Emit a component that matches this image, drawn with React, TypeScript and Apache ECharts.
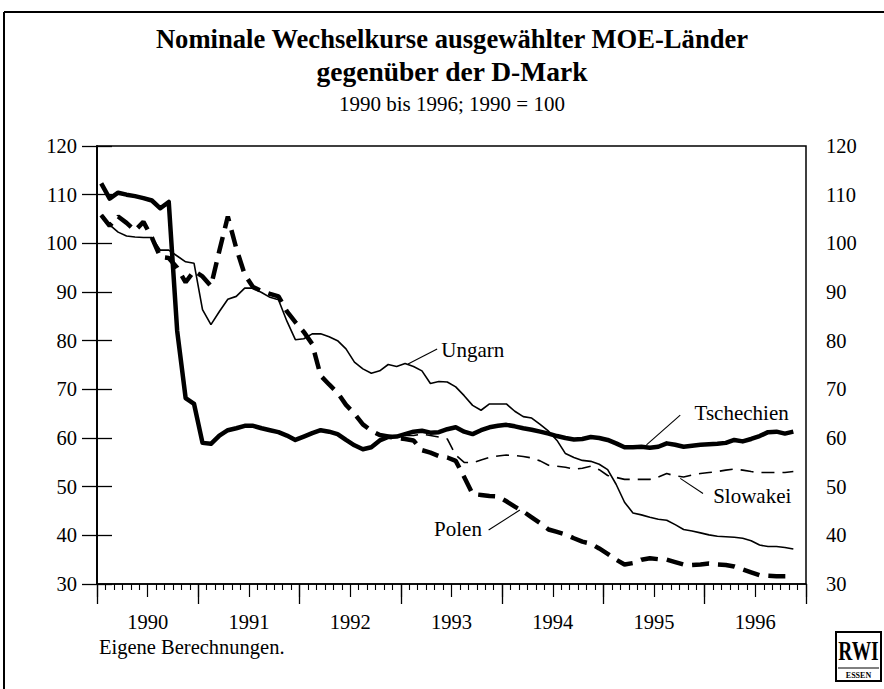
import React, { useEffect, useRef } from "react";
import * as echarts from "echarts";

// Monthly values, Jan 1990 .. Nov 1996 (index 1990 = 100)
const years = ["1990", "1991", "1992", "1993", "1994", "1995", "1996"];
const yTickMin = 30;
const yTickMax = 120;
const yTickStep = 10;

const tschechien = [
  112.3, 109.2, 110.4, 110.0, 109.7, 109.3, 108.8, 107.2, 108.5, 82.0, 68.2, 67.0,
  59.0, 58.8, 60.5, 61.6, 62.0, 62.5, 62.5, 62.0, 61.6, 61.2, 60.5, 59.6,
  60.3, 61.0, 61.6, 61.3, 60.8, 59.6, 58.5, 57.7, 58.1, 59.5, 60.2, 60.3,
  60.8, 61.3, 61.5, 61.1, 61.2, 61.8, 62.2, 61.3, 60.8, 61.6, 62.2, 62.5,
  62.7, 62.4, 62.0, 61.7, 61.3, 60.9, 60.4, 60.0, 59.7, 59.8, 60.2, 60.0,
  59.6, 58.9, 58.1, 58.1, 58.2, 58.0, 58.2, 58.9, 58.6, 58.2, 58.4, 58.6,
  58.7, 58.8, 59.0, 59.6, 59.3, 59.8, 60.4, 61.2, 61.3, 60.9, 61.3,
];

const ungarn = [
  105.8, 103.8, 102.3, 101.5, 101.3, 101.2, 101.2, 98.6, 98.6, 97.4, 96.2, 95.9,
  86.4, 83.3, 86.0, 88.5, 89.1, 90.8, 90.8, 89.9, 88.9, 88.4, 84.0, 80.2,
  80.4, 81.4, 81.4, 80.8, 80.0, 78.3, 75.6, 74.2, 73.3, 73.8, 75.1, 74.7,
  75.3, 74.7, 73.8, 71.2, 71.6, 71.5, 70.5, 68.7, 66.7, 65.7, 67.0, 67.0,
  67.0, 65.5, 64.4, 64.1, 62.8, 61.4, 59.5, 56.8, 56.0, 55.4, 55.2, 54.6,
  53.5, 50.5, 46.8, 44.6, 44.2, 43.7, 43.3, 43.1, 42.2, 41.2, 40.9, 40.5,
  40.1, 39.8, 39.7, 39.6, 39.4, 38.9, 38.0, 37.7, 37.7, 37.5, 37.2,
];

const polen = [
  105.8, 103.6, 105.5, 104.2, 102.6, 104.4, 101.2, 97.2, 97.0, 95.0, 92.0, 94.3,
  93.2, 91.2, 98.5, 105.5, 99.0, 93.6, 91.0, 90.2, 89.6, 89.1, 86.0, 83.8,
  81.8, 79.3, 72.8, 71.0, 69.3, 66.8, 65.0, 62.8, 61.5, 60.6, 60.3, 60.0,
  59.8, 59.5, 57.5, 57.0, 56.3, 56.0, 55.3, 52.0, 48.5, 48.3, 48.1, 48.0,
  47.0, 45.9, 44.9, 43.7, 42.5, 41.2, 40.7, 40.2, 39.4, 38.7, 38.3, 37.3,
  36.2, 35.0, 34.0, 34.3, 35.0, 35.3, 35.1, 35.0, 34.5, 34.0, 33.9, 34.0,
  34.2, 34.0, 33.9, 33.6, 33.0, 32.4, 31.8, 31.7, 31.6, 31.6, 31.6,
];

const slowakei: (number | null)[] = [
  null, null, null, null, null, null, null, null, null, null, null, null,
  null, null, null, null, null, null, null, null, null, null, null, null,
  null, null, null, null, null, null, null, null, null, null, null, null,
  60.5, 60.5, 60.8, 60.5, 60.2, 59.8, 56.5, 55.0, 54.9, 55.5, 56.0, 56.3,
  56.5, 56.4, 56.2, 55.9, 55.3, 54.4, 54.2, 54.0, 53.6, 53.8, 54.2, 53.5,
  52.3, 51.9, 51.5, 51.5, 51.5, 51.5, 52.0, 52.7, 52.2, 52.0, 52.4, 52.7,
  52.9, 53.1, 53.4, 53.6, 53.4, 53.1, 52.9, 52.9, 52.9, 52.9, 53.1,
];

const FONT = "Liberation Serif";

function toPairs(vals: (number | null)[]) {
  const out: [number, number][] = [];
  vals.forEach((v, i) => {
    if (v != null) out.push([i + 0.5, v]);
  });
  return out;
}

export default function App() {
  const ref = useRef<HTMLDivElement>(null);

  useEffect(() => {
    if (!ref.current) return;
    const chart = echarts.init(ref.current, null, { renderer: "svg" });

    const axisText = { color: "#000", fontFamily: FONT, fontSize: 20.5 };

    const option: any = {
      animation: false,
      backgroundColor: "#fff",
      textStyle: { fontFamily: FONT },
      title: [
        {
          text: "Nominale Wechselkurse ausgewählter MOE-Länder",
          left: 447,
          top: 20,
          textAlign: "center",
          textStyle: { fontFamily: FONT, fontWeight: "bold", fontSize: 26.6, color: "#000" },
        },
        {
          text: "gegenüber der D-Mark",
          left: 447,
          top: 52,
          textAlign: "center",
          textStyle: { fontFamily: FONT, fontWeight: "bold", fontSize: 27.5, color: "#000" },
        },
        {
          text: "1990 bis 1996; 1990 = 100",
          left: 447,
          top: 88,
          textAlign: "center",
          textStyle: { fontFamily: FONT, fontWeight: "normal", fontSize: 21, color: "#000" },
        },
      ],
      grid: {
        left: 97,
        top: 146,
        width: 709,
        height: 438,
        show: true,
        borderColor: "#000",
        borderWidth: 1.5,
        backgroundColor: "transparent",
      },
      xAxis: [
        {
          type: "value",
          min: 0,
          max: 84,
          interval: 12,
          position: "bottom",
          axisLine: { show: true, lineStyle: { color: "#000", width: 1.5 } },
          axisTick: { show: true, length: 20, lineStyle: { color: "#000", width: 1.3 } },
          axisLabel: { show: false },
          splitLine: { show: false },
        },
        {
          type: "value",
          min: 0,
          max: 84,
          interval: 6,
          position: "bottom",
          axisLine: { show: false },
          axisTick: { show: true, length: 13, lineStyle: { color: "#000", width: 1.2 } },
          minorTick: { show: true, splitNumber: 6, length: 6, lineStyle: { color: "#000", width: 1.1 } },
          axisLabel: {
            show: true,
            margin: 27,
            ...axisText,
            formatter: (v: number) => {
              if (v % 12 === 6) {
                const idx = (v - 6) / 12;
                return years[idx] || "";
              }
              return "";
            },
          },
          splitLine: { show: false },
        },
      ],
      yAxis: [
        {
          type: "value",
          min: yTickMin,
          max: yTickMax,
          interval: yTickStep,
          position: "left",
          axisLine: { show: true, lineStyle: { color: "#000", width: 1.5 } },
          axisTick: { show: true, length: 15, lineStyle: { color: "#000", width: 1.3 } },
          axisLabel: { margin: 20, ...axisText },
          splitLine: { show: false },
        },
        {
          type: "value",
          min: yTickMin,
          max: yTickMax,
          interval: yTickStep,
          position: "right",
          axisLine: { show: true, lineStyle: { color: "#000", width: 1.5 } },
          axisTick: { show: true, length: 15, lineStyle: { color: "#000", width: 1.3 } },
          axisLabel: { margin: 20, ...axisText },
          splitLine: { show: false },
        },
      ],
      series: [
        {
          name: "Ungarn",
          type: "line",
          xAxisIndex: 0,
          yAxisIndex: 0,
          data: toPairs(ungarn),
          showSymbol: false,
          symbol: "none",
          lineStyle: { color: "#000", width: 1.6 },
          z: 2,
        },
        {
          name: "Slowakei",
          type: "line",
          xAxisIndex: 0,
          yAxisIndex: 0,
          data: toPairs(slowakei),
          showSymbol: false,
          symbol: "none",
          lineStyle: { color: "#000", width: 1.6, type: [13, 8] },
          z: 2,
        },
        {
          name: "Polen",
          type: "line",
          xAxisIndex: 0,
          yAxisIndex: 0,
          data: toPairs(polen),
          showSymbol: false,
          symbol: "none",
          lineStyle: { color: "#000", width: 4.5, type: [17, 9], cap: "butt" },
          z: 3,
        },
        {
          name: "Tschechien",
          type: "line",
          xAxisIndex: 0,
          yAxisIndex: 0,
          data: toPairs(tschechien),
          showSymbol: false,
          symbol: "none",
          lineStyle: { color: "#000", width: 4.5, join: "round" },
          z: 4,
        },
      ],
    };

    chart.setOption(option);

    const px = (x: number, y: number) =>
      chart.convertToPixel({ xAxisIndex: 0, yAxisIndex: 0 } as any, [x, y]) as number[];

    const textStyle = (text: string, align: string) => ({
      text,
      fill: "#000",
      fontFamily: FONT,
      fontSize: 21,
      textAlign: align,
      textVerticalAlign: "middle",
    });

    const leader = (a: number[], b: number[]) => ({
      type: "line",
      shape: { x1: a[0], y1: a[1], x2: b[0], y2: b[1] },
      style: { stroke: "#000", lineWidth: 1.1 },
      z: 10,
    });

    const uA = px(36.85, 75.2), uB = px(40.3, 78.3), uT = px(40.8, 78.1);
    const tA = px(65.1, 58.6), tB = px(69.1, 64.7), tT = px(70.8, 65.1);
    const sA = px(69.1, 51.7), sB = px(71.8, 48.6), sT = px(73.0, 48.1);
    const pA = px(50.1, 45.2), pB = px(46.4, 41.1), pT = px(45.6, 41.2);

    const graphic: any[] = [
      // outer frame
      { type: "line", shape: { x1: 4, y1: 12, x2: 4, y2: 689 }, style: { stroke: "#000", lineWidth: 2 } },
      { type: "line", shape: { x1: 4, y1: 12, x2: 884, y2: 12 }, style: { stroke: "#000", lineWidth: 2 } },
      // annotations
      leader(uA, uB),
      { type: "text", x: uT[0], y: uT[1], style: textStyle("Ungarn", "left"), z: 10 },
      leader(tA, tB),
      { type: "text", x: tT[0], y: tT[1], style: textStyle("Tschechien", "left"), z: 10 },
      leader(sA, sB),
      { type: "text", x: sT[0], y: sT[1], style: textStyle("Slowakei", "left"), z: 10 },
      leader(pA, pB),
      { type: "text", x: pT[0], y: pT[1], style: textStyle("Polen", "right"), z: 10 },
      // source note
      {
        type: "text",
        x: 99,
        y: 647,
        style: { text: "Eigene Berechnungen.", fill: "#000", fontFamily: FONT, fontSize: 20.5, textVerticalAlign: "middle" },
      },
      // RWI logo
      {
        type: "group",
        children: [
          { type: "rect", shape: { x: 836, y: 632, width: 45, height: 49 }, style: { fill: "#fff", stroke: "#000", lineWidth: 2 } },
          { type: "line", shape: { x1: 838, y1: 668, x2: 879, y2: 668 }, style: { stroke: "#000", lineWidth: 1 } },
          {
            type: "text",
            x: 858.5,
            y: 651,
            scaleX: 0.72,
            style: { text: "RWI", fill: "#000", fontFamily: FONT, fontWeight: "bold", fontSize: 27, textAlign: "center", textVerticalAlign: "middle" },
          },
          {
            type: "text",
            x: 858.5,
            y: 675,
            style: { text: "ESSEN", fill: "#000", fontFamily: FONT, fontWeight: "bold", fontSize: 8, textAlign: "center", textVerticalAlign: "middle" },
          },
        ],
      },
    ];

    chart.setOption({ graphic });

    return () => {
      chart.dispose();
    };
  }, []);

  return (
    <div
      ref={ref}
      style={{ position: "fixed", left: 0, top: 0, width: 884, height: 689, background: "#fff" }}
    />
  );
}
